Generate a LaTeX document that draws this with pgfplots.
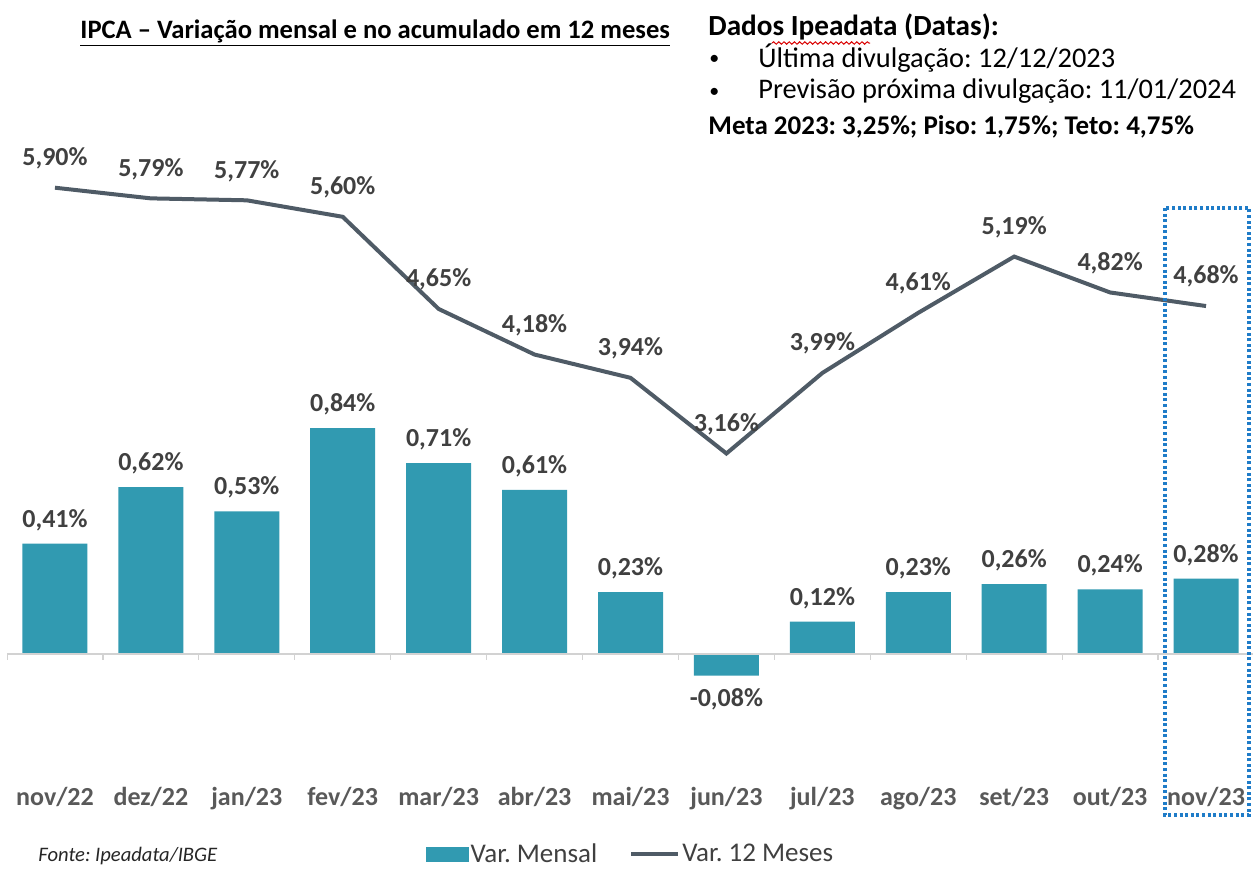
\documentclass[border=0pt]{standalone}
\usepackage{fontspec}
\setmainfont{Carlito}
\usepackage{pgfplots}
\pgfplotsset{compat=1.18}
\usetikzlibrary{decorations.pathmorphing}
\frenchspacing

\definecolor{barc}{HTML}{319AB1}
\definecolor{linec}{HTML}{4F5B66}
\definecolor{lblc}{HTML}{404040}
\definecolor{tickc}{HTML}{595959}
\definecolor{boxc}{HTML}{1F7CC8}

\pgfplotsset{
  box/.style={
    at={(3.5pt,-390pt)}, anchor=south west,
    width=623.5pt, height=335pt, scale only axis,
    xmin=-0.5, xmax=12.5,
    /pgf/number format/fixed,
    /pgf/number format/fixed zerofill,
    /pgf/number format/precision=2,
    /pgf/number format/use comma,
    /pgf/number format/assume math mode=true,
  },
}

\begin{document}
\begin{tikzpicture}
\path[use as bounding box] (0,0) rectangle (626.5pt,-434pt);

% barras: variacao mensal
\begin{axis}[box,
  ymin=-0.4684, ymax=2.0223,
  axis line style={draw=none}, ytick=\empty,
  xtick={0,...,12}, major tick length=0pt,
  xticklabels={nov/22,dez/22,jan/23,fev/23,mar/23,abr/23,mai/23,jun/23,jul/23,ago/23,set/23,out/23,nov/23},
  xticklabel style={font=\bfseries\fontsize{13}{15}\selectfont, text=tickc},
  ybar, bar width=32.5pt,
  nodes near coords={\pgfmathprintnumber{\pgfplotspointmeta}\%},
  every node near coord/.append style={font=\bfseries\fontsize{13}{15}\selectfont, text=lblc, inner ysep=6.3pt},
]
\addplot[fill=barc, draw=none] coordinates {
  (0,0.41) (1,0.62) (2,0.53) (3,0.84) (4,0.71) (5,0.61) (6,0.23)
  (7,-0.08) (8,0.12) (9,0.23) (10,0.26) (11,0.24) (12,0.28)
};
\draw[gray!35, line width=0.6pt] (axis cs:-0.5,0) -- (axis cs:12.5,0);
\pgfplotsinvokeforeach{-0.5,0.5,...,12.5}{
  \draw[gray!35, line width=0.6pt] (axis cs:#1,0) -- ++(0pt,-3pt);
}
\end{axis}

% linha: acumulado 12 meses
\begin{axis}[box,
  ymin=-0.206, ymax=6.701,
  hide axis,
  nodes near coords={\pgfmathprintnumber{\pgfplotspointmeta}\%},
  every node near coord/.append style={font=\bfseries\fontsize{13}{15}\selectfont, text=lblc, anchor=south, yshift=5pt},
  legend style={at={(0.5,-0.111)}, anchor=center, draw=none, fill=none,
    legend columns=2, font=\fontsize{13.5}{15}\selectfont, text=lblc,
    nodes={inner xsep=1pt, inner ysep=0.5pt},
    /tikz/every even column/.style={column sep=15pt}},
]
\addlegendimage{legend image code/.code={\fill[barc] (0pt,-3.6pt) rectangle (21pt,3.6pt);}}
\addlegendentry{Var. Mensal}
\addplot[linec, line width=2pt, mark=none,
  legend image code/.code={\draw[linec, line width=2pt] (0pt,0pt) -- (23.5pt,0pt);}]
  coordinates {
  (0,5.90) (1,5.79) (2,5.77) (3,5.60) (4,4.65) (5,4.18) (6,3.94)
  (7,3.16) (8,3.99) (9,4.61) (10,5.19) (11,4.82) (12,4.68)
};
\addlegendentry{Var. 12 Meses}
\end{axis}

\begin{scope}[x=0.5pt, y=-0.5pt]
  % destaque do ultimo mes
  \draw[boxc, line width=1.7pt, dash pattern=on 1.5pt off 1.3pt] (1165,208) rectangle (1249,815);
  % titulo
  \node[anchor=west, inner sep=0pt, font=\bfseries\fontsize{13.3}{15}\selectfont] at (80,33)
    {\underline{IPCA – Variação mensal e no acumulado em 12 meses}};
  % caixa de datas
  \node[anchor=west, inner sep=0pt, font=\bfseries\fontsize{14.6}{16}\selectfont] at (708,27)
    {Dados Ipeadata (Datas):};
  \draw[red!85!black, line width=0.5pt, decorate, decoration={snake, amplitude=0.6pt, segment length=2.6pt}]
    (772,43) -- (870,43);
  \node[anchor=west, inner sep=0pt, font=\fontsize{10}{12}\selectfont] at (709,60) {•};
  \node[anchor=west, inner sep=0pt, font=\fontsize{14.2}{16}\selectfont] at (758,58)
    {Última divulgação: 12/12/2023};
  \node[anchor=west, inner sep=0pt, font=\fontsize{10}{12}\selectfont] at (709,93) {•};
  \node[anchor=west, inner sep=0pt, font=\fontsize{14.2}{16}\selectfont] at (758,91)
    {Previsão próxima divulgação: 11/01/2024};
  \node[anchor=west, inner sep=0pt, font=\bfseries\fontsize{13.5}{16}\selectfont] at (708,127)
    {Meta 2023: 3,25\%; Piso: 1,75\%; Teto: 4,75\%};
  % fonte
  \node[anchor=west, inner sep=0pt, font=\itshape\fontsize{10.3}{12}\selectfont, text=black!85] at (38,856)
    {Fonte: Ipeadata/IBGE};
\end{scope}
\end{tikzpicture}
\end{document}
